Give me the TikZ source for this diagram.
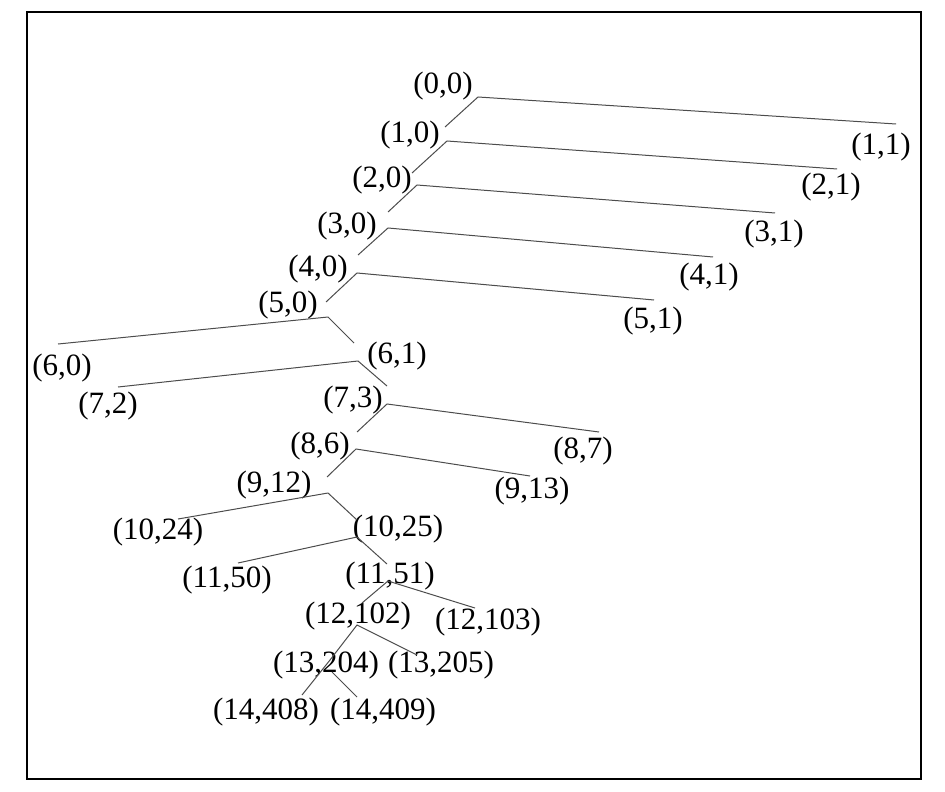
\documentclass[tikz,border=0pt]{standalone}
\usepackage{fontspec}
\setmainfont{Liberation Serif}

\begin{document}
\begin{tikzpicture}[
x=0.5pt, y=-0.5pt,
lbl/.style={inner sep=0pt, font=\fontsize{15.5}{18}\selectfont},
branch/.style={draw=black!70, line width=0.5pt},
frame/.style={draw=black, line width=0.7pt}
]

\useasboundingbox (0,0) rectangle (945,791);
\draw[frame] (27,12) rectangle (921,779);

% labels
\node[lbl] (n00) at (443,86) {(0,0)};
\node[lbl] (n10) at (410,135) {(1,0)};
\node[lbl] (n11) at (881,147) {(1,1)};
\node[lbl] (n20) at (382,180) {(2,0)};
\node[lbl] (n21) at (831,187) {(2,1)};
\node[lbl] (n30) at (347,226) {(3,0)};
\node[lbl] (n31) at (774,234) {(3,1)};
\node[lbl] (n40) at (318,269) {(4,0)};
\node[lbl] (n41) at (709,277) {(4,1)};
\node[lbl] (n50) at (288,305) {(5,0)};
\node[lbl] (n51) at (653,321) {(5,1)};
\node[lbl] (n60) at (62,368) {(6,0)};
\node[lbl] (n61) at (397,356) {(6,1)};
\node[lbl] (n72) at (108,406) {(7,2)};
\node[lbl] (n73) at (353,400) {(7,3)};
\node[lbl] (n86) at (320,446) {(8,6)};
\node[lbl] (n87) at (583,451) {(8,7)};
\node[lbl] (n912) at (274,485) {(9,12)};
\node[lbl] (n913) at (532,491) {(9,13)};
\node[lbl] (n1024) at (158,532) {(10,24)};
\node[lbl] (n1025) at (398,529) {(10,25)};
\node[lbl] (n1150) at (227,580) {(11,50)};
\node[lbl] (n1151) at (390,576) {(11,51)};
\node[lbl] (n12102) at (358,616) {(12,102)};
\node[lbl] (n12103) at (488,622) {(12,103)};
\node[lbl] (n13204) at (326,665) {(13,204)};
\node[lbl] (n13205) at (441,665) {(13,205)};
\node[lbl] (n14408) at (266,712) {(14,408)};
\node[lbl] (n14409) at (383,712) {(14,409)};

% branch points
\coordinate (j00) at (478,97);
\coordinate (j10) at (447,141);
\coordinate (j20) at (417,185);
\coordinate (j30) at (388,228);
\coordinate (j40) at (357,273);
\coordinate (j50) at (328,317);
\coordinate (j61) at (358,361);
\coordinate (j73) at (387,404);
\coordinate (j86) at (356,449);
\coordinate (j912) at (328,493);
\coordinate (j1025) at (357,537);
\coordinate (j1151) at (388,581);
\coordinate (j12102) at (357,625);
\coordinate (j13204) at (332,672);
\coordinate (k13204) at (330,660);

% line ends
\coordinate (a10) at (445,127);
\coordinate (a11) at (896,124);
\coordinate (a20) at (412,173);
\coordinate (a21) at (837,169);
\coordinate (a30) at (388,212);
\coordinate (a31) at (775,213);
\coordinate (a40) at (358,255);
\coordinate (a41) at (713,257);
\coordinate (a50) at (326,302);
\coordinate (a51) at (654,300);
\coordinate (a60) at (58,344);
\coordinate (a61) at (354,343);
\coordinate (a72) at (118,387);
\coordinate (a73) at (387,386);
\coordinate (a86) at (357,432);
\coordinate (a87) at (599,432);
\coordinate (a912) at (327,477);
\coordinate (a913) at (530,476);
\coordinate (a1024) at (178,519);
\coordinate (a1025) at (357,520);
\coordinate (a1150) at (238,563);
\coordinate (a1151) at (387,564);
\coordinate (a12102) at (362,603);
\coordinate (a12103) at (475,608);
\coordinate (a13205) at (417,655);
\coordinate (a14408) at (302,695);
\coordinate (a14409) at (357,697);

\draw[branch] (a10) -- (j00) -- (a11);
\draw[branch] (a20) -- (j10) -- (a21);
\draw[branch] (a30) -- (j20) -- (a31);
\draw[branch] (a40) -- (j30) -- (a41);
\draw[branch] (a50) -- (j40) -- (a51);
\draw[branch] (a60) -- (j50) -- (a61);
\draw[branch] (a72) -- (j61) -- (a73);
\draw[branch] (a86) -- (j73) -- (a87);
\draw[branch] (a912) -- (j86) -- (a913);
\draw[branch] (a1024) -- (j912) -- (a1025);
\draw[branch] (a1150) -- (j1025) -- (a1151);
\draw[branch] (a12102) -- (j1151) -- (a12103);
\draw[branch] (k13204) -- (j12102) -- (a13205);
\draw[branch] (k13204) -- (a14408);
\draw[branch] (j13204) -- (a14409);

\end{tikzpicture}
\end{document}
